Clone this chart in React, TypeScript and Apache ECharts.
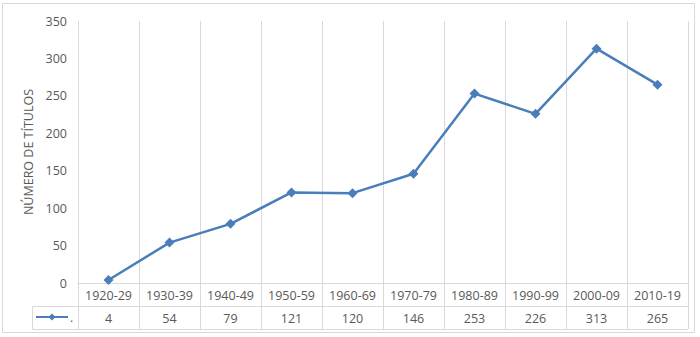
import React, { useEffect, useRef } from "react";
import * as echarts from "echarts";

const categories = ["1920-29", "1930-39", "1940-49", "1950-59", "1960-69", "1970-79", "1980-89", "1990-99", "2000-09", "2010-19"];
const values = [4, 54, 79, 121, 120, 146, 253, 226, 313, 265];
const seriesName = ".";
const yAxisName = "NÚMERO DE TÍTULOS";

const W = 700;
const H = 337;
const GL = 78;
const GR = 688;
const GT = 21;
const GB = 283;
const ROW = 23;
const TABLE_LEFT = 32;
const LINE_COLOR = "#d9d9d9";
const BLUE = "#4A7EBB";
const TEXT = "#595959";
const FONT = "Open Sans";

export default function App() {
  const ref = useRef<HTMLDivElement>(null);
  useEffect(() => {
    if (!ref.current) return;
    const chart = echarts.init(ref.current, undefined, { renderer: "svg" });
    chart.setOption({
      animation: false,
      textStyle: { fontFamily: FONT },
      grid: { left: GL, right: W - GR, top: GT, bottom: H - GB },
      legend: {
        data: [seriesName],
        left: TABLE_LEFT + 3,
        top: GB + ROW + 5,
        itemWidth: 32,
        itemHeight: 9,
        itemGap: 0,
        padding: 0,
        textStyle: { color: TEXT, fontSize: 12, padding: [0, 0, 0, -3] },
      },
      xAxis: [
        {
          type: "category",
          data: categories,
          boundaryGap: true,
          axisLine: { show: true, lineStyle: { color: LINE_COLOR, width: 1 } },
          axisTick: { show: true, length: ROW, lineStyle: { color: LINE_COLOR } },
          axisLabel: { color: TEXT, fontSize: 12.5, margin: 6, interval: 0 },
          splitLine: { show: true, interval: 0, lineStyle: { color: LINE_COLOR, width: 1 } },
        },
        {
          type: "category",
          data: categories,
          position: "bottom",
          offset: ROW,
          boundaryGap: true,
          axisLine: { show: true, lineStyle: { color: LINE_COLOR, width: 1 } },
          axisTick: { show: true, length: ROW, lineStyle: { color: LINE_COLOR } },
          axisLabel: {
            color: TEXT,
            fontSize: 12.5,
            margin: 6,
            interval: 0,
            formatter: (_v: string, i: number) => String(values[i]),
          },
          splitLine: { show: false },
        },
      ],
      yAxis: {
        type: "value",
        min: 0,
        max: 350,
        interval: 50,
        axisLine: { show: false },
        axisTick: { show: false },
        splitLine: { show: false },
        axisLabel: { color: TEXT, fontSize: 12.5, margin: 11 },
        name: yAxisName,
        nameLocation: "middle",
        nameRotate: 90,
        nameGap: 41,
        nameTextStyle: { color: TEXT, fontSize: 12.5 },
      },
      series: [
        {
          name: seriesName,
          type: "line",
          data: values,
          xAxisIndex: 0,
          symbol: "diamond",
          symbolSize: 10,
          lineStyle: { color: BLUE, width: 2.5 },
          itemStyle: { color: BLUE },
        },
      ],
      graphic: [
        {
          type: "rect",
          shape: { x: 2.5, y: 3.5, width: 692, height: 329 },
          style: { fill: "none", stroke: LINE_COLOR, lineWidth: 1 },
          silent: true,
        },
        {
          type: "polyline",
          shape: {
            points: [
              [GL, GB + ROW + 0.5],
              [TABLE_LEFT + 0.5, GB + ROW + 0.5],
              [TABLE_LEFT + 0.5, GB + 2 * ROW + 0.5],
              [GR, GB + 2 * ROW + 0.5],
            ],
          },
          style: { fill: "none", stroke: LINE_COLOR, lineWidth: 1 },
          silent: true,
        },
      ],
    });
    return () => chart.dispose();
  }, []);
  return <div ref={ref} style={{ position: "fixed", left: 0, top: 0, width: W, height: H, background: "#fff" }} />;
}
